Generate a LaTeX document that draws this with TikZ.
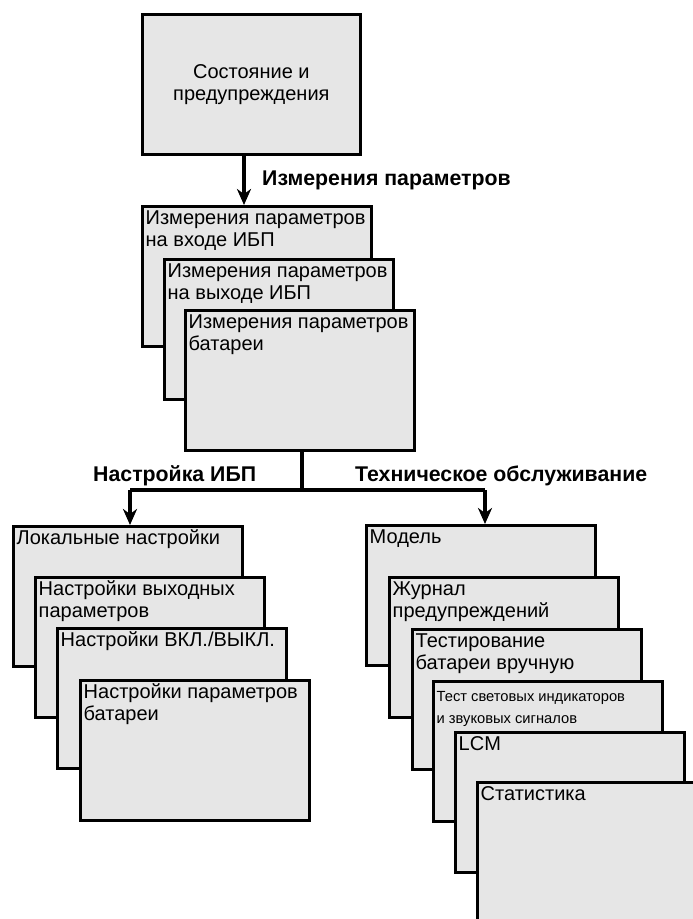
\documentclass[tikz,border=0pt]{standalone}
\usepackage{fontspec}
\setmainfont{Liberation Sans}
\usetikzlibrary{arrows.meta}
\definecolor{boxgray}{RGB}{230,230,230}
\begin{document}
\begin{tikzpicture}[x=1pt,y=-1pt,
  box/.style={draw=black,line width=2.7pt,fill=boxgray,minimum width=229pt,minimum height=140pt,anchor=north west,inner sep=0pt},
  txt/.style={anchor=north west,align=left,inner sep=0pt,xshift=4.5pt,yshift=-3.6pt,font=\fontsize{20}{22}\selectfont},
  smalltxt/.style={txt,yshift=-3pt,font=\fontsize{14.7}{21.5}\selectfont},
  lbl/.style={anchor=base west,inner sep=0pt,font=\fontsize{21.3}{24}\selectfont\bfseries},
  conn/.style={line width=3.2pt},
  arr/.style={conn,-{Stealth[length=16pt,width=14pt,inset=5pt]}}]
\useasboundingbox (0,0) rectangle (693,919);
\clip (0,0) rectangle (693,919);

% top box
\node (top) [box,minimum width=218pt,align=center,font=\fontsize{20}{22}\selectfont] at (141,13) {Состояние и\\предупреждения};

% measurement boxes
\node (m1) [box] at (141,205) {};
\node (m1t) [txt] at (m1.north west) {\strut Измерения параметров\\на входе ИБП};
\node (m2) [box] at (163,258) {};
\node (m2t) [txt] at (m2.north west) {\strut Измерения параметров\\на выходе ИБП};
\node (m3) [box] at (184,309) {};
\node (m3t) [txt] at (m3.north west) {\strut Измерения параметров\\батареи};

% left boxes
\node (L1) [box] at (12,525) {};
\node (L1t) [txt] at (L1.north west) {\strut Локальные настройки};
\node (L2) [box] at (34,576) {};
\node (L2t) [txt] at (L2.north west) {\strut Настройки выходных\\параметров};
\node (L3) [box] at (56,627) {};
\node (L3t) [txt] at (L3.north west) {\strut Настройки ВКЛ./ВЫКЛ.};
\node (L4) [box] at (79,679) {};
\node (L4t) [txt] at (L4.north west) {\strut Настройки параметров\\батареи};

% right boxes
\node (R1) [box] at (365,524) {};
\node (R1t) [txt] at (R1.north west) {\strut Модель};
\node (R2) [box] at (388,576) {};
\node (R2t) [txt] at (R2.north west) {\strut Журнал\\предупреждений};
\node (R3) [box] at (411,628) {};
\node (R3t) [txt] at (R3.north west) {\strut Тестирование\\батареи вручную};
\node (R4) [box] at (432,680) {};
\node (R4t) [smalltxt] at (R4.north west) {\strut Тест световых индикаторов\\и звуковых сигналов};
\node (R5) [box] at (454,731) {};
\node (R5t) [txt] at (R5.north west) {\strut LCM};
\node (R6) [box] at (476,781) {};
\node (R6t) [txt] at (R6.north west) {\strut Статистика};

% connectors
\coordinate (ta) at (244,0);
\coordinate (j) at (302,490);
\coordinate (jl) at (130,490);
\coordinate (jr) at (485,490);
\draw[arr] (ta |- top.south) -- (ta |- m1.north);
\draw[conn] (j |- m3.south) -- (j);
\draw[conn] (jl) -- (jr);
\draw[arr] (jl) -- (jl |- L1.north);
\draw[arr] (jr) -- (jr |- R1.north);

% labels
\node (lm) [lbl] at (262,185) {Измерения параметров};
\node (ln) [lbl] at (93,481) {Настройка ИБП};
\node (lt) [lbl] at (355,481) {Техническое обслуживание};
\end{tikzpicture}
\end{document}
